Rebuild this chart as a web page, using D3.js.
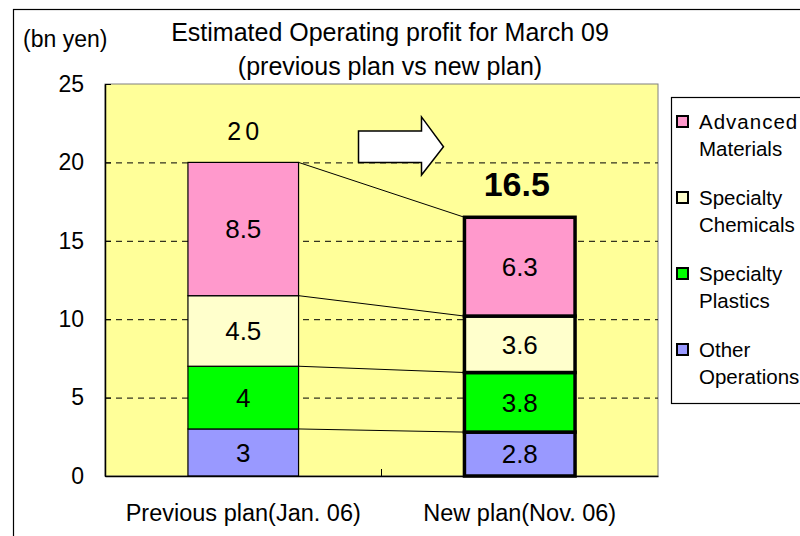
<!DOCTYPE html>
<html>
<head>
<meta charset="utf-8">
<script src="https://cdn.jsdelivr.net/npm/d3@7"></script>
<style>
  body { margin: 0; background: #fff; }
  svg text { font-family: "Liberation Sans", Arial, sans-serif; fill: #000; }
</style>
</head>
<body>
<div id="graphContainer"></div>
<script>
"use strict";
(function () {
    // chart data
    const categories = ["Previous plan(Jan. 06)", "New plan(Nov. 06)"]
    const segmentNames = ["Other Operations", "Specialty Plastics", "Specialty Chemicals", "Advanced Materials"]
    const otherOperations = [3, 2.8]
    const specialtyPlastics = [4, 3.8]
    const specialtyChemicals = [4.5, 3.6]
    const advancedMaterials = [8.5, 6.3]
    const totals = [20, 16.5]
    const yTicks = [0, 5, 10, 15, 20, 25]
    const legendLines = {
        "Advanced Materials": ["Advanced", "Materials"],
        "Specialty Chemicals": ["Specialty", "Chemicals"],
        "Specialty Plastics": ["Specialty", "Plastics"],
        "Other Operations": ["Other", "Operations"]
    }

    const colors = {
        "Other Operations": "#9999FF",
        "Specialty Plastics": "#00FF00",
        "Specialty Chemicals": "#FFFFCC",
        "Advanced Materials": "#FF99CC"
    }

    const measurements = {
        width: 800,
        height: 536,
        plotLeft: 105,
        plotRight: 658,
        plotTop: 84,
        plotBottom: 476
    }

    // build rows for the stack
    const rows = categories.map((c, i) => ({
        category: c,
        "Other Operations": otherOperations[i],
        "Specialty Plastics": specialtyPlastics[i],
        "Specialty Chemicals": specialtyChemicals[i],
        "Advanced Materials": advancedMaterials[i]
    }))
    const series = d3.stack().keys(segmentNames)(rows)

    const svg = d3.select("#graphContainer").append("svg")
        .attr("width", measurements.width)
        .attr("height", measurements.height)

    // outer frame of the chart
    svg.append("rect")
        .attr("x", 13.5).attr("y", 9.5)
        .attr("width", 820).attr("height", 600)
        .attr("fill", "#fff").attr("stroke", "#000").attr("stroke-width", 1.2)

    const scaleX = d3.scaleBand()
        .domain(categories)
        .range([measurements.plotLeft, measurements.plotRight])
        .paddingInner(0.6)
        .paddingOuter(0.3)

    const scaleY = d3.scaleLinear()
        .domain([0, 25])
        .range([measurements.plotBottom, measurements.plotTop])

    const plotW = measurements.plotRight - measurements.plotLeft

    // plot background
    svg.append("rect")
        .attr("x", measurements.plotLeft).attr("y", measurements.plotTop)
        .attr("width", plotW)
        .attr("height", measurements.plotBottom - measurements.plotTop)
        .attr("fill", "#FFFF99")
        .attr("stroke", "#808080").attr("stroke-width", 1)

    // dashed gridlines
    const grid = svg.append("g")
        .attr("transform", `translate(${measurements.plotLeft},0)`)
        .call(d3.axisLeft(scaleY).tickValues(yTicks.filter(t => t > 0 && t < 25))
            .tickSize(-plotW).tickFormat(""))
    grid.select(".domain").remove()
    grid.selectAll("line")
        .attr("stroke", "#000").attr("stroke-width", 1).attr("stroke-dasharray", "6,5")

    // connector lines between the bars
    svg.append("g").selectAll("line")
        .data(series)
        .enter().append("line")
        .attr("x1", scaleX(categories[0]) + scaleX.bandwidth())
        .attr("y1", d => scaleY(d[0][1]))
        .attr("x2", scaleX(categories[1]))
        .attr("y2", d => scaleY(d[1][1]))
        .attr("stroke", "#000").attr("stroke-width", 1)

    // stacked bars
    const layers = svg.append("g").selectAll("g")
        .data(series)
        .enter().append("g")
        .attr("fill", d => colors[d.key])

    layers.selectAll("rect")
        .data(d => d)
        .enter().append("rect")
        .attr("x", d => scaleX(d.data.category))
        .attr("y", d => scaleY(d[1]))
        .attr("width", scaleX.bandwidth())
        .attr("height", d => scaleY(d[0]) - scaleY(d[1]))
        .attr("stroke", "#000")
        .attr("stroke-width", (d, i) => i === 1 ? 3.5 : 1.2)

    layers.selectAll("text")
        .data(d => d)
        .enter().append("text")
        .attr("x", d => scaleX(d.data.category) + scaleX.bandwidth() / 2)
        .attr("y", d => (scaleY(d[0]) + scaleY(d[1])) / 2)
        .attr("dy", "0.36em")
        .attr("text-anchor", "middle")
        .style("font-size", "26px")
        .text(d => d[1] - d[0] === Math.round(d[1] - d[0]) ? d3.format("d")(d[1] - d[0]) : d3.format(".1f")(d[1] - d[0]))

    // totals above bars
    svg.append("text")
        .attr("x", scaleX(categories[0]) + scaleX.bandwidth() / 2 + 2)
        .attr("y", 140)
        .attr("text-anchor", "middle")
        .style("font-size", "25px")
        .style("letter-spacing", "4px")
        .text(totals[0])
    svg.append("text")
        .attr("x", scaleX(categories[1]) + scaleX.bandwidth() / 2 - 3)
        .attr("y", scaleY(totals[1]) - 21)
        .attr("text-anchor", "middle")
        .style("font-size", "34px")
        .style("font-weight", "bold")
        .text(totals[1])

    // block arrow between the bars
    const mid = scaleX(categories[0]) + scaleX.bandwidth() + (scaleX(categories[1]) - scaleX(categories[0]) - scaleX.bandwidth()) / 2
    const arrowPts = [
        [mid - 23, scaleY(22)], [mid + 40, scaleY(22)], [mid + 40, scaleY(22.9)],
        [mid + 62, scaleY(21)], [mid + 40, scaleY(19.2)], [mid + 40, scaleY(20)],
        [mid - 23, scaleY(20)]
    ]
    svg.append("polygon")
        .attr("points", arrowPts.map(p => p.join(",")).join(" "))
        .attr("fill", "#fff").attr("stroke", "#000").attr("stroke-width", 1.5)

    // y axis
    const yAxis = svg.append("g")
        .attr("transform", `translate(${measurements.plotLeft},0)`)
        .call(d3.axisLeft(scaleY).tickValues(yTicks).tickSizeInner(-6).tickSizeOuter(0).tickPadding(21))
    yAxis.select(".domain").attr("stroke", "#000").attr("stroke-width", 1.5)
    yAxis.selectAll("line").attr("stroke", "#000")
    yAxis.selectAll("text").style("font-size", "23px")
        .attr("font-family", null)

    // x axis
    const xAxis = svg.append("g")
        .attr("transform", `translate(0,${measurements.plotBottom})`)
        .call(d3.axisBottom(scaleX).tickSize(0).tickPadding(28))
    xAxis.select(".domain").attr("stroke", "#000").attr("stroke-width", 1.5)
    xAxis.selectAll("text").style("font-size", "23.5px").attr("font-family", null)
    svg.append("line")
        .attr("x1", mid).attr("x2", mid)
        .attr("y1", measurements.plotBottom).attr("y2", measurements.plotBottom - 7)
        .attr("stroke", "#000")

    // titles
    svg.append("text")
        .attr("x", 23).attr("y", 47)
        .style("font-size", "23px")
        .text("(bn yen)")
    svg.append("text")
        .attr("x", 390).attr("y", 41)
        .attr("text-anchor", "middle")
        .style("font-size", "25px")
        .text("Estimated Operating profit for March 09")
    svg.append("text")
        .attr("x", 390).attr("y", 75)
        .attr("text-anchor", "middle")
        .style("font-size", "25px")
        .text("(previous plan vs new plan)")

    // legend
    svg.append("rect")
        .attr("x", 671.5).attr("y", 97.5)
        .attr("width", 200).attr("height", 306)
        .attr("fill", "#fff").attr("stroke", "#000").attr("stroke-width", 1.2)

    const legendItems = svg.append("g").selectAll("g")
        .data(segmentNames.slice().reverse())
        .enter().append("g")
        .attr("transform", (d, i) => `translate(676,${122 + i * 76})`)

    legendItems.append("rect")
        .attr("x", 1).attr("y", -6)
        .attr("width", 11).attr("height", 11)
        .attr("fill", d => colors[d])
        .attr("stroke", "#000").attr("stroke-width", 2)

    legendItems.each(function (d) {
        legendLines[d].forEach((line, j) => {
            d3.select(this).append("text")
                .attr("x", 23).attr("y", j * 27)
                .attr("dy", "0.36em")
                .style("font-size", "20.5px")
                .style("letter-spacing", line === "Advanced" ? "1px" : null)
                .text(line)
        })
    })
})()
</script>
</body>
</html>
